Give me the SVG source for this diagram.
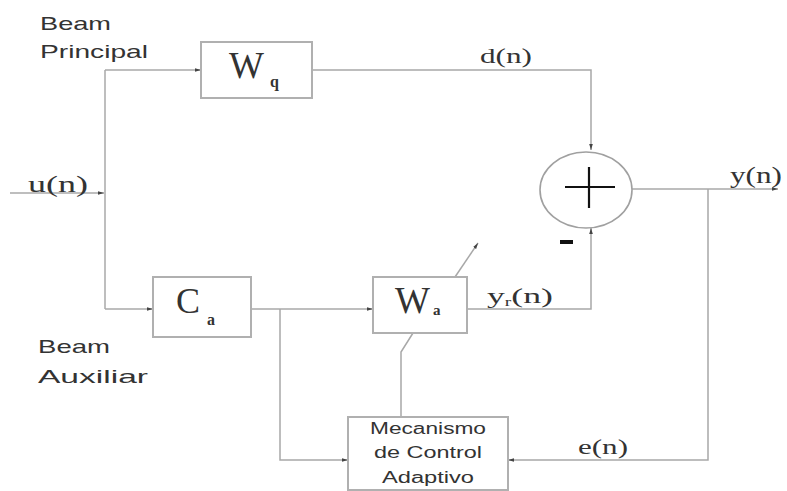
<svg xmlns="http://www.w3.org/2000/svg" width="787" height="491" viewBox="0 0 787 491">
<style>
.ln{fill:none;stroke:#a8a8a8;stroke-width:1.5}
.bx{fill:#fff;stroke:#b0b0b0;stroke-width:2}
.sans{font-family:"Liberation Sans",Arial,sans-serif;fill:#333}
.ser{font-family:"Liberation Serif","Times New Roman",serif;fill:#333}
</style>
<defs>
<marker id="ar" viewBox="0 0 10 10" refX="10" refY="5" markerWidth="6" markerHeight="6" orient="auto" markerUnits="userSpaceOnUse">
<path d="M0,2 L10,5 L0,8 z" fill="#444"/>
</marker>
</defs>
<rect width="787" height="491" fill="#fff"/>
<g id="connectors">
<path class="ln" d="M10,193 L104,193" marker-end="url(#ar)"/>
<path class="ln" d="M105,70 L105,309"/>
<path class="ln" d="M105,70 L201,70" marker-end="url(#ar)"/>
<path class="ln" d="M105,309 L153,309" marker-end="url(#ar)"/>
<path class="ln" d="M312,70 L591,70 L591,150" marker-end="url(#ar)"/>
<path class="ln" d="M251,309 L373,309" marker-end="url(#ar)"/>
<path class="ln" d="M280,309 L280,460 L348,460" marker-end="url(#ar)"/>
<path class="ln" d="M467,309 L591,309 L591,228" marker-end="url(#ar)"/>
<path class="ln" d="M632,189 L778,189" marker-end="url(#ar)"/>
<path class="ln" d="M708,189 L708,460 L508,460" marker-end="url(#ar)"/>
<path class="ln" d="M413,333 L401,352 L401,417"/>
<path class="ln" d="M455,277 L478,243" marker-end="url(#ar)"/>
</g>
<g id="labels">
<text class="sans" x="40" y="30" font-size="19" textLength="71" lengthAdjust="spacingAndGlyphs">Beam</text>
<text class="sans" x="40" y="58" font-size="19" textLength="108" lengthAdjust="spacingAndGlyphs">Principal</text>
<text class="sans" x="38" y="353" font-size="19" textLength="72" lengthAdjust="spacingAndGlyphs">Beam</text>
<text class="sans" x="38" y="383" font-size="19" textLength="110" lengthAdjust="spacingAndGlyphs">Auxiliar</text>
<text class="ser" x="28" y="192" font-size="24" textLength="60" lengthAdjust="spacingAndGlyphs">u(n)</text>
<text class="ser" x="480" y="63" font-size="21" textLength="52" lengthAdjust="spacingAndGlyphs">d(n)</text>
<text class="ser" x="730" y="183" font-size="23" textLength="52" lengthAdjust="spacingAndGlyphs">y(n)</text>
<text class="ser" x="578" y="454" font-size="21" textLength="50" lengthAdjust="spacingAndGlyphs">e(n)</text>
<text class="ser" x="487" y="303" font-size="22" textLength="66" lengthAdjust="spacingAndGlyphs">y<tspan font-size="12" dy="3">r</tspan><tspan dy="-3">(n)</tspan></text>
<rect x="560" y="240" width="13" height="4" fill="#111"/>
</g>
<g id="Wq">
<rect class="bx" x="201" y="42" width="111" height="56"/>
<text class="ser" x="229" y="78" font-size="37">W</text>
<text class="ser" x="270" y="87" font-size="16" font-weight="bold">q</text>
</g>
<g id="Ca">
<rect class="bx" x="153" y="277" width="98" height="60"/>
<text class="ser" x="176" y="313" font-size="36">C</text>
<text class="ser" x="207" y="325" font-size="16" font-weight="bold">a</text>
</g>
<g id="Wa">
<rect class="bx" x="373" y="277" width="94" height="56"/>
<text class="ser" x="395" y="313" font-size="37">W</text>
<text class="ser" x="433" y="315" font-size="15" font-weight="bold">a</text>
</g>
<g id="sum">
<ellipse cx="586" cy="190" rx="46" ry="38" fill="#fff" stroke="#a0a0a0" stroke-width="1.6"/>
<path d="M565,187 L615,187 M589,167 L589,208" stroke="#111" stroke-width="2.2" fill="none"/>
</g>
<g id="mech">
<rect class="bx" x="348" y="417" width="160" height="73"/>
<text class="sans" x="428" y="434" font-size="16" text-anchor="middle" textLength="116" lengthAdjust="spacingAndGlyphs">Mecanismo</text>
<text class="sans" x="428" y="458" font-size="16" text-anchor="middle" textLength="108" lengthAdjust="spacingAndGlyphs">de Control</text>
<text class="sans" x="428" y="483" font-size="16" text-anchor="middle" textLength="92" lengthAdjust="spacingAndGlyphs">Adaptivo</text>
</g>
</svg>
